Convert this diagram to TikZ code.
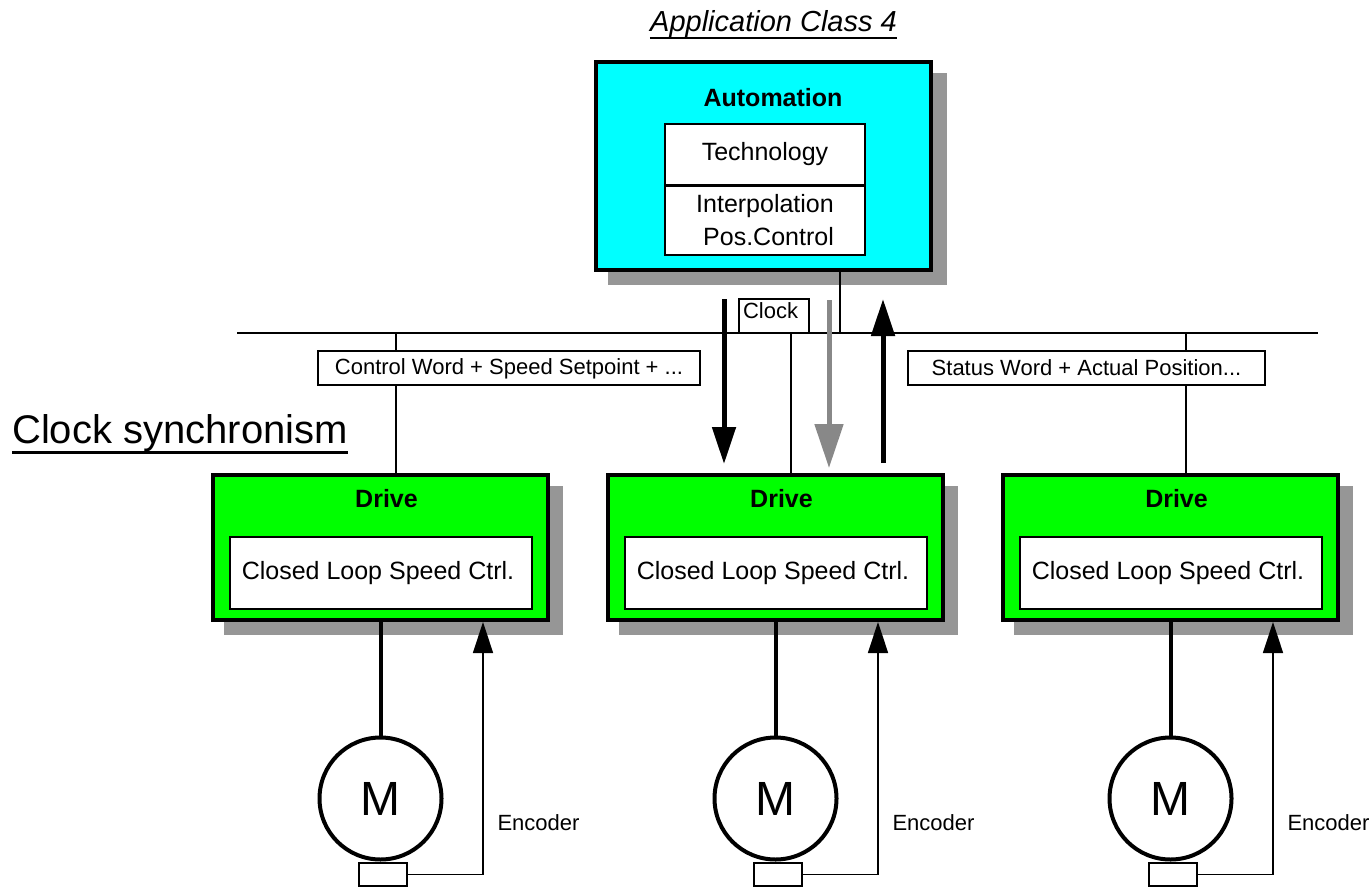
\documentclass[tikz,border=0pt]{standalone}
\usepackage{fontspec}
\setmainfont{Liberation Sans}
\usetikzlibrary{arrows.meta,backgrounds}
\definecolor{shgray}{RGB}{150,150,150}
\definecolor{argray}{RGB}{136,136,136}
\definecolor{autocyan}{RGB}{0,255,255}
\definecolor{drivegreen}{RGB}{0,255,0}
\newcommand{\fsz}[2]{\fontsize{#1pt}{#2pt}\selectfont}
\begin{document}
\begin{tikzpicture}[x=1pt,y=-1pt,
  autobox/.style={draw,line width=4pt,fill=autocyan,minimum width=335pt,minimum height=208pt,inner sep=0pt},
  drivebox/.style={draw,line width=4pt,fill=drivegreen,minimum width=335pt,minimum height=145pt,inner sep=0pt},
  innerbox/.style={draw,line width=2pt,fill=white,inner sep=0pt,font=\fsz{25}{33}},
  labelbox/.style={draw,line width=1.6pt,fill=white,inner sep=0pt,minimum height=34pt,font=\fsz{22}{26}},
  motor/.style={circle,draw,line width=4pt,minimum size=122pt,inner sep=0pt,fill=white,font=\fsz{48}{56}},
  encbox/.style={draw,line width=2pt,fill=white,minimum width=48pt,minimum height=23pt,inner sep=0pt},
  boldlab/.style={font=\bfseries\fsz{25}{30},inner sep=0pt},
  enclab/.style={font=\fsz{22}{26},inner sep=0pt},
  thinline/.style={line width=1.6pt},
  busline/.style={line width=2pt},
  powerline/.style={line width=4pt},
  feedback/.style={line width=1.5pt,-{Triangle[width=20pt,length=31pt]}},
  bigarrow/.style={line width=5pt,-{Triangle[width=23pt,length=37pt]}},
  grayarrow/.style={draw=argray,line width=5pt,-{Triangle[width=28pt,length=44pt]}},
  shadowfill/.style={fill=shgray}
]
\useasboundingbox (0,0) rectangle (1372,888);

% titles
\node[font=\itshape\fsz{29}{34},inner sep=0pt,anchor=base] (title) at (773.5,32) {Application Class 4};
\draw[line width=2.5pt] (title.south west) -- (title.south east);
\node[font=\fsz{40}{48},inner sep=0pt,anchor=base west] (cs) at (12,443) {Clock synchronism};
\draw[line width=3pt] ([yshift=-1pt]cs.south west) -- ([yshift=-1pt]cs.south east);

% automation
\node[autobox] (auto) at (763.5,166) {};
\node[boldlab] (autolab) at (773,98) {Automation};
\node[innerbox,minimum width=200pt,minimum height=61pt] (tech) at (765,154.5) {Technology};
\node[innerbox,minimum width=200pt,minimum height=69pt,align=center] (interp) at (765,220.5) {Interpolation\\\hspace*{7pt}Pos.Control};

% bus
\coordinate (busL) at (237,333);
\coordinate (busR) at (1318,333);
\draw[busline] (busL) -- (busR);

% labels on bus
\node[labelbox,minimum width=70pt,text width=62pt,align=left,text height=16pt,text depth=12pt] (clk) at (774,316) {Clock};
\node[labelbox,minimum width=382pt,text height=16pt,text depth=4pt] (cw) at (509,368) {Control Word + Speed Setpoint + ...};
\node[labelbox,minimum width=357pt] (sw) at (1086.5,368) {Status Word + Actual Position...};

% drives, motors, encoders
\foreach \i/\x in {1/380.5,2/775.5,3/1170.5}{
  \node[drivebox] (d\i) at (\x,547.5) {};
  \node[boldlab] (dl\i) at (\x+6,499) {Drive};
  \node[innerbox,minimum width=302pt,minimum height=72pt] (dc\i) at (\x+0.5,573) {Closed Loop Speed Ctrl.\hspace*{6pt}};
  \node[motor] (m\i) at (\x,798.5) {M};
  \node[encbox] (e\i) at (\x+2,874.5) {};
  \node[enclab] (el\i) at (\x+158,823) {Encoder};
  \coordinate (fb\i) at ([xshift=102.5pt]d\i.south);
  \coordinate (in\i) at ([xshift=15.5pt]d\i.north);
  \draw[powerline] (m\i.north) -- (m\i.north |- d\i.south);
  \draw[feedback] (e\i.east) -| (fb\i);
}

% shadows
\begin{scope}[on background layer]
  \fill[shadowfill] ([shift={(14,13)}]auto.north west) rectangle ([shift={(14,13)}]auto.south east);
  \foreach \i in {1,2,3}{
    \fill[shadowfill] ([shift={(13,13)}]d\i.north west) rectangle ([shift={(13,13)}]d\i.south east);
  }
\end{scope}

% connections
\coordinate (aout) at ([xshift=76.5pt]auto.south);
\draw[thinline] (aout) -- (aout |- busL);
\draw[thinline] (in1 |- busL) -- (in1 |- cw.north);
\draw[thinline] (in1 |- cw.south) -- (in1);
\draw[thinline] (in2 |- clk.south) -- (in2);
\draw[thinline] (in3 |- busL) -- (in3 |- sw.north);
\draw[thinline] (in3 |- sw.south) -- (in3);

% data flow arrows
\coordinate (dnA) at (724,299);
\coordinate (dnB) at (724,464);
\coordinate (gyA) at (829,300);
\coordinate (gyB) at (829,468);
\coordinate (upA) at (883,463);
\coordinate (upB) at (883,299);
\draw[bigarrow] (dnA) -- (dnB);
\draw[grayarrow] (gyA) -- (gyB);
\draw[bigarrow] (upA) -- (upB);
\end{tikzpicture}
\end{document}
